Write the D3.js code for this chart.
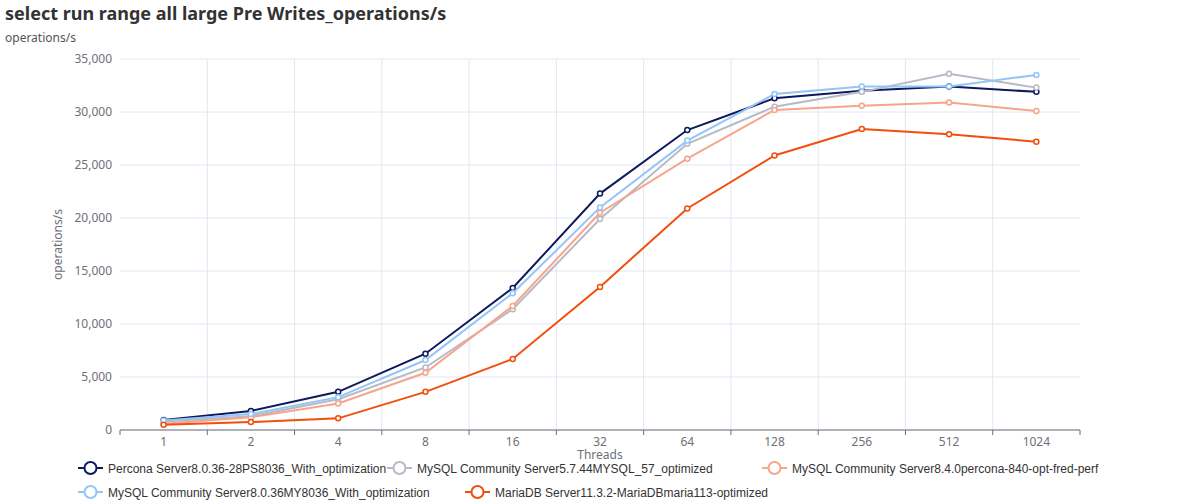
<!DOCTYPE html><html><head><meta charset="utf-8"><script src="https://cdn.jsdelivr.net/npm/d3@7"></script>
<style>body{margin:0;background:#fff;font-family:"Microsoft YaHei","Noto Sans",sans-serif}</style></head><body><svg id="c" width="1200" height="500"></svg>
<script>
const threads=["1","2","4","8","16","32","64","128","256","512","1024"];
const yTicks=[0,5000,10000,15000,20000,25000,30000,35000];
const seriesNames=["Percona Server8.0.36-28PS8036_With_optimization","MySQL Community Server5.7.44MYSQL_57_optimized","MySQL Community Server8.4.0percona-840-opt-fred-perf","MySQL Community Server8.0.36MY8036_With_optimization","MariaDB Server11.3.2-MariaDBmaria113-optimized"];
const colors=["#0d1a5e","#b7bac6","#f6a58b","#93c5f7","#f24e0c"];
const percona=[950,1800,3600,7200,13400,22300,28300,31300,32000,32400,31900];
const mysql57=[800,1300,2900,5900,11400,19900,27000,30500,31900,33600,32300];
const mysql84=[600,1200,2500,5400,11700,20500,25600,30200,30600,30900,30100];
const mysql80=[900,1500,3100,6600,12900,21000,27300,31700,32400,32400,33500];
const maria=[500,750,1100,3600,6700,13500,20900,25900,28400,27900,27200];
const values=[percona,mysql57,mysql84,mysql80,maria];
const order=[0,1,2,3,4];
const svg=d3.select("#c");
const L=120,R=1080,T=59,B=430;
const x=d3.scaleBand().domain(threads).range([L,R]);
const y=d3.scaleLinear().domain([0,35000]).range([B,T]);
svg.append("text").attr("x",5).attr("y",20).attr("font-size",18).attr("font-weight","bold").attr("fill","#333").text("select run range all large Pre Writes_operations/s");
svg.append("text").attr("x",5).attr("y",42).attr("font-size",12).attr("fill","#555").text("operations/s");
const g=svg.append("g");
g.selectAll(".hg").data(yTicks).join("line").attr("x1",L).attr("x2",R).attr("y1",d=>y(d)).attr("y2",d=>y(d)).attr("stroke","#e0e6f1");
const bounds=threads.map(t=>x(t)).concat([R]);
g.selectAll(".vg").data(bounds.slice(1,-1)).join("line").attr("x1",d=>d).attr("x2",d=>d).attr("y1",T).attr("y2",B).attr("stroke","#e0e6f1");
g.selectAll(".yl").data(yTicks).join("text").attr("x",L-8).attr("y",d=>y(d)+4).attr("text-anchor","end").attr("font-size",12).attr("fill","#6e7079").text(d3.format(","));
g.append("line").attr("x1",L).attr("x2",R).attr("y1",B).attr("y2",B).attr("stroke","#6e7079");
g.selectAll(".xt").data(bounds).join("line").attr("x1",d=>d).attr("x2",d=>d).attr("y1",B).attr("y2",B+5).attr("stroke","#6e7079");
g.selectAll(".xl").data(threads).join("text").attr("x",d=>x(d)+x.bandwidth()/2).attr("y",B+16).attr("text-anchor","middle").attr("font-size",12).attr("fill","#6e7079").text(d=>d);
svg.append("text").attr("x",(L+R)/2).attr("y",B+29).attr("text-anchor","middle").attr("font-size",12).attr("fill","#6e7079").text("Threads");
svg.append("text").attr("transform",`translate(62,${(T+B)/2}) rotate(-90)`).attr("text-anchor","middle").attr("font-size",12).attr("fill","#6e7079").text("operations/s");
const cx=d=>x(d)+x.bandwidth()/2;
const line=d3.line().x((d,i)=>cx(threads[i])).y(d=>y(d));
order.forEach(s=>{
  const sg=svg.append("g");
  sg.append("path").attr("d",line(values[s])).attr("fill","none").attr("stroke",colors[s]).attr("stroke-width",2);
  sg.selectAll("circle").data(values[s]).join("circle").attr("cx",(d,i)=>cx(threads[i])).attr("cy",d=>y(d)).attr("r",2.5).attr("fill","#fff").attr("stroke",colors[s]).attr("stroke-width",1.5);
});
const legPos=[[78,468],[387,468],[762,468],[78,492],[465,492]];
seriesNames.forEach((n,s)=>{
  const [lx,ly]=legPos[s];
  const lg=svg.append("g");
  lg.append("line").attr("x1",lx).attr("x2",lx+25).attr("y1",ly).attr("y2",ly).attr("stroke",colors[s]).attr("stroke-width",2);
  lg.append("circle").attr("cx",lx+12.5).attr("cy",ly).attr("r",6).attr("fill","#fff").attr("stroke",colors[s]).attr("stroke-width",2);
  lg.append("text").attr("x",lx+30).attr("y",ly+4.5).attr("font-size",12).attr("font-family","'Liberation Sans',Arial,sans-serif").attr("fill","#333").text(n);
});
</script></body></html>
